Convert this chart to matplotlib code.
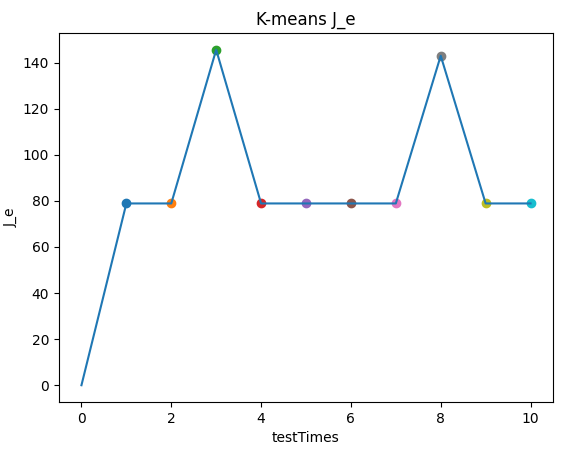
import numpy as np
import matplotlib
matplotlib.use('Agg')
import matplotlib.pyplot as plt

TEST_TIMES = list(range(11))
J_E = [0, 78.9, 78.9, 145.6, 78.9, 78.9, 78.9, 78.9, 143.0, 78.9, 78.9]

fig = plt.figure(figsize=(5.69, 4.54), dpi=100)
ax = fig.add_axes([59 / 569, 1 - 402 / 454, (553 - 59) / 569, (402 - 33) / 454])

ax.plot(TEST_TIMES, J_E)
# one scatter per run, each takes the next colour of the cycle
for t, j in zip(TEST_TIMES[1:], J_E[1:]):
    ax.scatter(t, j)

ax.set_title('K-means J_e')
ax.set_xlabel('testTimes')
ax.set_ylabel('J_e')

plt.savefig('out.png', dpi=100)
